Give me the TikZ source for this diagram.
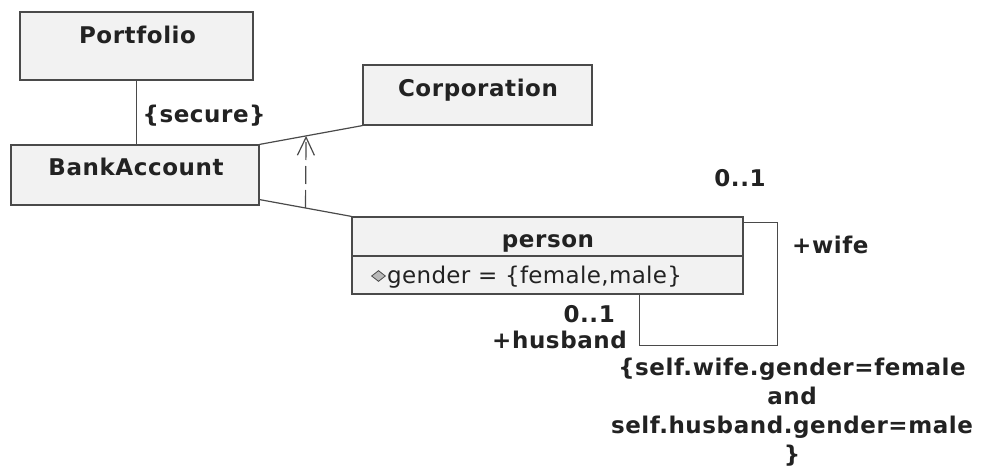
\documentclass[tikz,border=0pt]{standalone}
\usepackage{fontspec}
\setmainfont{DejaVu Sans}[BoldFeatures={LetterSpace=2.5}]
\usetikzlibrary{arrows.meta,shapes.geometric,calc}
\definecolor{ink}{HTML}{222222}
\definecolor{edge}{HTML}{4A4A4A}
\definecolor{boxfill}{HTML}{F2F2F2}
\begin{document}
\begin{tikzpicture}[x=1pt,y=-1pt,
  classbox/.style={draw=edge, fill=boxfill, line width=1.2pt, inner sep=0pt},
  lbl/.style={text=ink, font=\fontsize{23}{28}\selectfont\bfseries, inner sep=0pt},
  attr/.style={text=ink, font=\fontsize{23}{28}\selectfont, inner sep=0pt},
  assoc/.style={draw=edge, line width=1.2pt},
  dep/.style={draw=edge, line width=1.2pt, dash pattern=on 18pt off 6pt,
    -{Straight Barb[length=18pt,width=17pt,line width=1.2pt]}},
  attrmark/.style={diamond, draw=edge, fill=gray!55, line width=0.8pt,
    inner sep=0pt, minimum width=14pt, minimum height=11pt}]

% canvas
\fill[white] (0,0) rectangle (986,468);
\useasboundingbox (0,0) rectangle (986,468);

% class boxes
\node[classbox, minimum width=233pt, minimum height=68pt] (portfolio) at (136.5,46) {};
\node[classbox, minimum width=248pt, minimum height=60pt] (bank) at (135,175) {};
\node[classbox, minimum width=229pt, minimum height=60pt] (corp) at (477.5,95) {};
\node[classbox, minimum width=391pt, minimum height=77pt] (person) at (547.5,255.5) {};
\draw[assoc] (person.west |- 0,256) -- (person.east |- 0,256);

% class names
\node[lbl, anchor=base] (portfolio-name) at ($(portfolio.north)+(1,32)$) {Portfolio};
\node[lbl, anchor=base] (bank-name) at ($(bank.north)+(1,31)$) {BankAccount};
\node[lbl, anchor=base] (corp-name) at ($(corp.north)+(0.5,32)$) {Corporation};
\node[lbl, anchor=base] (person-name) at ($(person.north)+(0.5,31)$) {person};

% attribute
\node[attrmark] (gender-mark) at (378.5,276) {};
\node[attr, anchor=base west] (gender-attr) at (387,283)
  {\addfontfeature{LetterSpace=1.5}gender = \{female,male\}};

% associations
\draw[assoc] (portfolio.south) -- (portfolio.south |- bank.north)
  node[lbl, anchor=base west, pos=0.66, xshift=5.5pt] (secure) {\{secure\}};
\draw[assoc] (bank.north east) -- (corp.south west) coordinate[pos=0.452] (deptip);
\draw[assoc] ($(bank.south east)+(0,-6)$) -- (person.north west) coordinate[pos=0.5] (deptail);
\draw[dep] (deptail) -- (deptip);

% reflexive association on person
\coordinate (wifeend) at ($(person.north east)+(0,6)$);
\coordinate (husbandend) at ($(person.south west)+(288,0)$);
\draw[assoc] (wifeend) -- ++(34,0) -- ++(0,123) -| (husbandend);

% role names and multiplicities
\node[lbl, anchor=base] (wife-mult) at (740,187) {\addfontfeature{LetterSpace=5}0..1};
\node[lbl, anchor=base west] (wife-role) at (792,254) {+wife};
\node[lbl, anchor=base east] (husband-mult) at (615,322) {\addfontfeature{LetterSpace=5}0..1};
\node[lbl, anchor=base east] (husband-role) at (627,348) {+husband};

% constraint
\node[lbl, anchor=base, align=center, font=\fontsize{23}{29}\selectfont\bfseries\addfontfeature{LetterSpace=4.5}]
  (constraint) at (792,462.5)
  {\{self.wife.gender=female\\and\\self.husband.gender=male\\\}};
\end{tikzpicture}
\end{document}
